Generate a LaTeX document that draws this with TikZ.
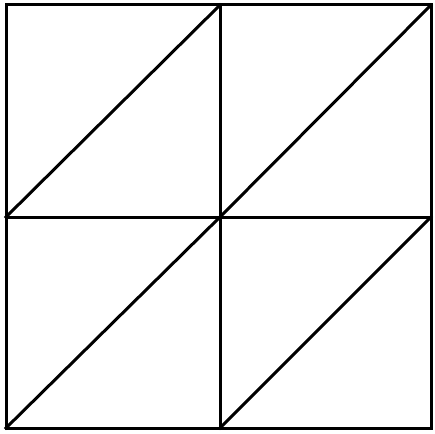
\documentclass[tikz,border=0pt]{standalone}
\usepackage{tikz}
\usetikzlibrary{calc}

\begin{document}
\begin{tikzpicture}[
        x=1pt, y=-1pt,
        edge/.style={draw=black, line width=3pt, line cap=rect}
    ]
        % Frame
        \useasboundingbox (0,0) rectangle (435,433);
        \coordinate (tl) at (6,5);
        \coordinate (br) at (431,428);
        \coordinate (mid) at (220,217);

        % Grid
        \draw[edge] (tl) rectangle (br);
        \draw[edge] (tl -| mid) -- (br -| mid);
        \draw[edge] (tl |- mid) -- (br |- mid);

        % Diagonals
        \draw[edge] (tl |- mid) -- (tl -| mid);
        \draw[edge] (mid) -- (br |- tl);
        \draw[edge] (tl |- br) -- (mid);
        \draw[edge] (br -| mid) -- (br |- mid);
    \end{tikzpicture}
\end{document}
